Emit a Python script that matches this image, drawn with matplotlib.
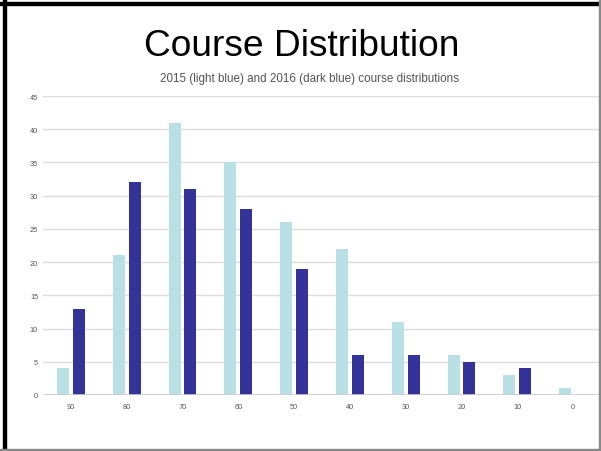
import numpy as np
import matplotlib
matplotlib.use("Agg")
import matplotlib.pyplot as plt
from matplotlib.patches import Rectangle

plt.rcParams['font.family'] = ['Liberation Sans', 'DejaVu Sans']

### Course distribution data ###

grades = ['90', '80', '70', '60', '50', '40', '30', '20', '10', '0']
counts2015 = [4, 21, 41, 35, 26, 22, 11, 6, 3, 1]
counts2016 = [13, 32, 31, 28, 19, 6, 6, 5, 4, 0]
yticks = [0, 5, 10, 15, 20, 25, 30, 35, 40, 45]

W, H = 601, 452
fig = plt.figure(figsize=(W / 100, H / 100), dpi=100)

# slide border (thick black top/left, thin gray right/bottom)
fig.patches.append(Rectangle((3 / W, 0), 3 / W, 1, transform=fig.transFigure, color='black', zorder=5))
fig.patches.append(Rectangle((0, 1 - 6 / H), 1, 3 / H, transform=fig.transFigure, color='black', zorder=5))
fig.patches.append(Rectangle((1 - 2 / W, 0), 1 / W, 1, transform=fig.transFigure, color='#888888', zorder=5))
fig.patches.append(Rectangle((0, 1 / H), 1, 1 / H, transform=fig.transFigure, color='#888888', zorder=5))

ax = fig.add_axes([43 / W, (H - 396) / H, 558 / W, 299 / H])

x = np.arange(len(grades))
bw = 0.215
off = 0.143
ax.bar(x - off, counts2015, width=bw, color='#b9e0e4', zorder=3)
ax.bar(x + off, counts2016, width=bw, color='#333399', zorder=3)

ax.set_xlim(-0.5, len(grades) - 0.5)
ax.set_ylim(0, 45)
ax.set_yticks(yticks)
ax.set_xticks(x)
ax.set_xticklabels(grades)
ax.tick_params(axis='both', length=0, labelsize=5.3, colors='#555555')
ax.tick_params(axis='y', pad=3.5)
ax.tick_params(axis='x', pad=5.5)
ax.grid(axis='y', color='#dddddd', linewidth=1, zorder=0)
for s in ax.spines.values():
    s.set_visible(False)
ax.axhline(0, color='#cccccc', linewidth=1.2, zorder=4)

fig.text(302 / W, 1 - 46 / H, 'Course Distribution', ha='center', va='center', fontsize=26.7)
fig.text(310 / W, 1 - 79 / H, '2015 (light blue) and 2016 (dark blue) course distributions',
         ha='center', va='center', fontsize=8.4, color='#555555')

fig.savefig('out.png', dpi=100)
